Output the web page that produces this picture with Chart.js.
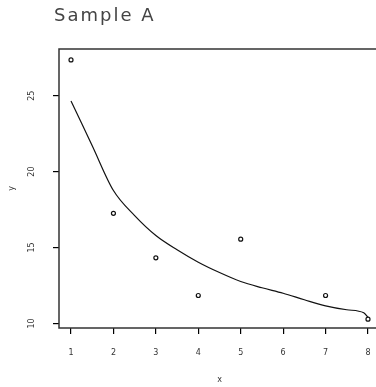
<!DOCTYPE html>
<html>
<head>
<meta charset="utf-8">
<script src="https://cdn.jsdelivr.net/npm/chart.js@4"></script>
<style>
  html, body { margin: 0; padding: 0; background: #fff; overflow: hidden; width: 376px; height: 387px; }
  canvas { display: block; }
</style>
</head>
<body>
<canvas id="c" width="392" height="387"></canvas>
<script>
const TITLE = "Sample A";
const X_LABEL = "x";
const Y_LABEL = "y";
const X_TICKS = [1, 2, 3, 4, 5, 6, 7, 8];
const Y_TICKS = [10, 15, 20, 25];
const POINT_X = [1, 2, 3, 4, 5, 7, 8];
const POINT_Y = [27.35, 17.25, 14.32, 11.84, 15.55, 11.84, 10.28];
const FIT_X = [1, 1.5, 2, 2.5, 3, 3.5, 4, 4.5, 5, 5.5, 6, 6.5, 7, 7.5, 7.9, 8];
const FIT_Y = [24.65, 21.7, 18.75, 17.1, 15.79, 14.85, 14.03, 13.35, 12.76, 12.35, 11.99, 11.56, 11.16, 10.9, 10.7, 10.4];

const boxPlugin = {
  id: 'box',
  afterDatasetsDraw(chart) {
    const a = chart.chartArea, ctx = chart.ctx;
    ctx.save();
    ctx.strokeStyle = '#333';
    ctx.lineWidth = 1.5;
    ctx.strokeRect(a.left, a.top, a.right - a.left, a.bottom - a.top);
    ctx.restore();
  }
};
const titlePlugin = {
  id: 'ttl',
  afterDraw(chart) {
    const ctx = chart.ctx;
    ctx.save();
    ctx.fillStyle = '#444';
    ctx.font = '18px "DejaVu Sans"';
    try { ctx.letterSpacing = '2px'; } catch (e) {}
    ctx.textBaseline = 'alphabetic';
    ctx.textAlign = 'left';
    ctx.fillText(TITLE, 54, 21);
    ctx.restore();
  }
};

const tickFont = { family: 'DejaVu Sans', size: 8 };

new Chart(document.getElementById('c'), {
  type: 'scatter',
  data: {
    datasets: [
      {
        data: FIT_X.map((x, i) => ({ x, y: FIT_Y[i] })),
        showLine: true,
        borderColor: '#111',
        borderWidth: 1.2,
        pointRadius: 0,
        cubicInterpolationMode: 'monotone',
        clip: false
      },
      {
        data: POINT_X.map((x, i) => ({ x, y: POINT_Y[i] })),
        showLine: false,
        pointStyle: 'circle',
        pointRadius: 2,
        borderColor: '#111',
        backgroundColor: 'rgba(0,0,0,0)',
        borderWidth: 1.2,
        clip: false
      }
    ]
  },
  options: {
    responsive: false,
    animation: false,
    devicePixelRatio: 1,
    layout: { padding: { top: 49, right: 12, left: 0, bottom: 0 } },
    plugins: { legend: { display: false }, tooltip: { enabled: false }, title: { display: false } },
    scales: {
      x: {
        type: 'linear',
        min: 0.717,
        max: 8.283,
        afterBuildTicks(s) { s.ticks = X_TICKS.map(v => ({ value: v })); },
        afterFit(s) { s.height = 59; },
        border: { display: false },
        grid: { drawOnChartArea: false, drawTicks: true, tickLength: 6, color: '#000', lineWidth: 1.2 },
        ticks: { font: tickFont, color: '#333', padding: 14, maxRotation: 0, autoSkip: false, callback: v => String(v) },
        title: { display: true, text: X_LABEL, font: { family: 'DejaVu Sans', size: 8 }, color: '#333', padding: { top: 0, bottom: 2 } }
      },
      y: {
        type: 'linear',
        min: 9.7,
        max: 28.07,
        afterBuildTicks(s) { s.ticks = Y_TICKS.map(v => ({ value: v })); },
        afterFit(s) { s.width = 59; },
        border: { display: false },
        grid: { drawOnChartArea: false, drawTicks: true, tickLength: 6, color: '#000', lineWidth: 1.2 },
        ticks: { font: tickFont, color: '#333', padding: 16, minRotation: 90, maxRotation: 90, crossAlign: 'center', autoSkip: false, callback: v => String(v) },
        title: { display: true, text: Y_LABEL, font: { family: 'DejaVu Sans', size: 8 }, color: '#333', padding: { top: 7, bottom: 0 } }
      }
    }
  },
  plugins: [boxPlugin, titlePlugin]
});
</script>
</body>
</html>
